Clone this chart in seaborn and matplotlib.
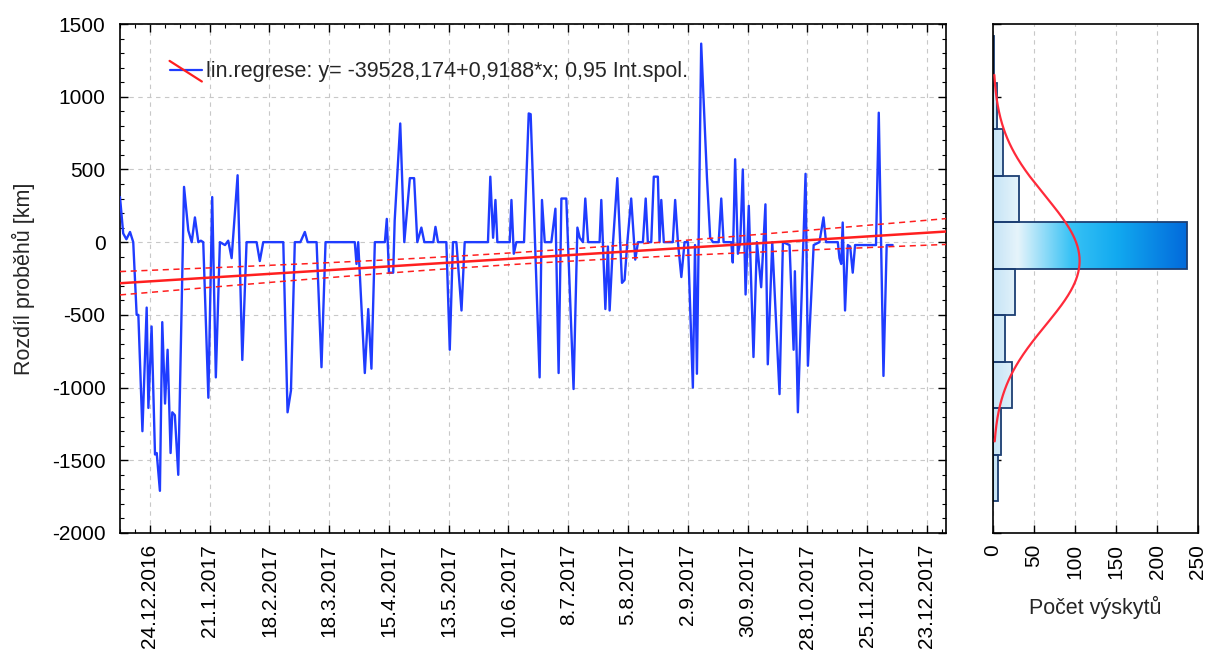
import numpy as np
import pandas as pd
import matplotlib
matplotlib.use("Agg")
import matplotlib.pyplot as plt
import matplotlib.dates as mdates
from matplotlib.colors import LinearSegmentedColormap
from matplotlib.legend_handler import HandlerBase
from matplotlib.lines import Line2D
from matplotlib.ticker import MultipleLocator
import seaborn as sns

sns.set_theme(style="ticks")
plt.rcParams["font.family"] = ["Liberation Sans", "DejaVu Sans"]
plt.rcParams["axes.unicode_minus"] = False

# --- data ---
start_date = "2016-12-10"
end_date = "2018-01-01"

# day offset from start_date, and difference in km at that day
day_offset = [
    0, 1.5, 3, 4.7, 6.2, 7.8, 8.6, 10.5, 12.5, 13.3,
    14.8, 16.4, 17.2, 18.7, 19.8, 21.1, 22.3, 23.7, 24.5, 25.7,
    27.3, 30.0, 32.0, 33.6, 35.1, 36.7, 37.9, 39.0, 41.4, 43.2,
    44.9, 46.8, 49.2, 50.7, 52.3, 55.1, 57.3, 59.3, 64.0, 65.5,
    67.1, 76.5, 78.5, 80.1, 81.9, 84.5, 86.6, 87.9, 92.1, 94.4,
    96.3, 110.0, 110.8, 111.6, 114.7, 116.3, 117.8, 119.4, 124.1, 125.0,
    126.0, 128.0, 128.7, 131.3, 133.2, 135.8, 137.8, 139.3, 141.2, 142.6,
    146.8, 147.8, 149.0, 152.9, 154.5, 156.0, 157.6, 160.0, 161.5, 172.4,
    173.5, 174.8, 175.9, 176.8, 182.6, 183.4, 184.5, 185.7, 189.3, 191.5,
    192.4, 196.6, 197.7, 199.0, 202.1, 204.0, 205.5, 206.8, 209.1, 212.5,
    214.3, 215.4, 216.9, 218.0, 219.3, 224.7, 225.5, 227.4, 228.6, 229.4,
    231.0, 233.0, 235.2, 236.4, 237.7, 239.5, 241.4, 242.7, 245.0, 246.3,
    247.3, 248.9, 250.1, 252.0, 252.8, 253.6, 254.8, 259.0, 260.1, 261.4,
    263.0, 264.5, 266.1, 268.4, 269.4, 270.3, 272.3, 275.0, 276.5, 277.8,
    280.5, 281.7, 282.8, 286.4, 287.1, 288.2, 289.5, 290.6, 291.8, 293.1,
    294.6, 296.8, 298.4, 300.4, 302.4, 303.5, 305.6, 309.0, 310.6, 313.7,
    315.6, 316.2, 317.6, 321.2, 322.3, 325.0, 327.7, 329.6, 330.8, 336.3,
    337.1, 337.9, 338.6, 339.7, 341.0, 342.1, 343.3, 344.4, 354.2, 355.5,
    357.7, 359.2, 362.0,
]
diff_km = [
    310, 60, 20, 70, 0, -500, -500, -1300, -450, -1140,
    -580, -1460, -1450, -1710, -550, -1110, -740, -1450, -1170, -1190,
    -1600, 380, 80, 0, 170, 0, 10, 0, -1070, 310,
    -930, 0, -20, 10, -110, 460, -810, 0, 0, -130,
    0, 0, -1170, -1020, 0, 0, 70, 0, 0, -860,
    0, 0, -150, 0, -900, -460, -870, 0, 0, 160,
    -210, -210, 150, 816, 0, 440, 440, 0, 100, 0,
    0, 105, 0, 0, -740, 0, 0, -470, 0, 0,
    450, 30, 290, 0, 0, 290, -80, 0, 0, 885,
    880, -930, 290, 0, 0, 230, -900, 300, 300, -1010,
    100, 30, 0, 300, 0, 0, 290, -460, -30, -470,
    0, 440, -280, -260, 0, 300, -120, 0, 0, 300,
    0, 0, 450, 450, 0, 290, 0, 0, 290, 0,
    -240, 0, 0, -1000, -20, -905, 1365, 445, 30, 0,
    0, 300, 0, 0, -140, 570, -80, 0, 500, -360,
    250, -790, 0, -310, 260, -840, 0, -1045, 0, -20,
    -740, -200, -1170, 470, -850, -20, 0, 170, 0, 0,
    -110, -150, 135, -470, -20, -30, -210, -20, -20, 890,
    -920, -20, -20,
]

tick_labels = ["24.12.2016", "21.1.2017", "18.2.2017", "18.3.2017", "15.4.2017",
               "13.5.2017", "10.6.2017", "8.7.2017", "5.8.2017", "2.9.2017",
               "30.9.2017", "28.10.2017", "25.11.2017", "23.12.2017"]

# regression from the legend (x = date serial number), 0.95 confidence band
reg_intercept = -39528.174
reg_slope = 0.9188
n_obs = 363
resid_sd = 390
t_crit = 1.967

# histogram of the differences (equal-width bins)
hist_low = -1783
hist_binwidth = 320
hist_counts = [6, 10, 23, 15, 27, 236, 32, 12, 5, 1]
curve_span = [-1370, 1150]

BLUE = "#1f3cff"
RED = "#ff1f1f"

df = pd.DataFrame({
    "datum": pd.Timestamp(start_date) + pd.to_timedelta(day_offset, unit="D"),
    "rozdil": diff_km,
})

fig = plt.figure(figsize=(12.07, 6.6), dpi=100)
W, H = 1207, 660
ax = fig.add_axes([120 / W, 1 - 533 / H, 826 / W, 509 / H])
axh = fig.add_axes([993 / W, 1 - 533 / H, 205 / W, 509 / H])

# --- time series ---
sns.lineplot(data=df, x="datum", y="rozdil", ax=ax, color=BLUE, lw=1.7, zorder=3)

# regression line + confidence band
xn = np.linspace(mdates.date2num(pd.Timestamp(start_date)), mdates.date2num(pd.Timestamp(end_date)), 300)
serial = xn + 25569
y_fit = reg_intercept + reg_slope * serial
obs = serial[0] + np.arange(n_obs)
xbar = obs.mean()
sxx = ((obs - xbar) ** 2).sum()
hw = t_crit * resid_sd * np.sqrt(1 / n_obs + (serial - xbar) ** 2 / sxx)
ax.plot(xn, y_fit, color=RED, lw=1.8, zorder=4)
ax.plot(xn, y_fit + hw, color=RED, lw=1.1, ls=(0, (4, 3)), zorder=4)
ax.plot(xn, y_fit - hw, color=RED, lw=1.1, ls=(0, (4, 3)), zorder=4)


class RegHandler(HandlerBase):
    def create_artists(self, legend, orig_handle, xdescent, ydescent, width, height, fontsize, trans):
        x0, x1 = -xdescent, -xdescent + width
        blue = Line2D([x0, x1], [height / 2 - ydescent] * 2, color=BLUE, lw=1.6, transform=trans)
        red = Line2D([x0, x1], [height - ydescent + 1, -ydescent - 3], color=RED, lw=1.6, transform=trans)
        return [blue, red]


def cz(v, nd):
    return f"{v:.{nd}f}".replace(".", ",")


handle = Line2D([], [], color=RED)
label = f"lin.regrese: y= {cz(reg_intercept, 3)}+{cz(reg_slope, 4)}*x; 0,95 Int.spol."
ax.legend([handle], [label], handler_map={handle: RegHandler()}, loc="center left",
          bbox_to_anchor=(0.06, 0.906), frameon=False, fontsize=15.5,
          handlelength=1.5, handletextpad=0.2, borderaxespad=0, borderpad=0)

ax.set_xlim(pd.Timestamp(start_date), pd.Timestamp(end_date))
ax.set_ylim(-2000, 1500)
tick_dates = pd.to_datetime(tick_labels, format="%d.%m.%Y")
ax.set_xticks(tick_dates, labels=tick_labels, rotation=90)
ax.xaxis.set_minor_locator(MultipleLocator(7, offset=mdates.date2num(tick_dates[0]) % 7))
ax.yaxis.set_major_locator(MultipleLocator(500))
ax.yaxis.set_minor_locator(MultipleLocator(100))
ax.tick_params(which="both", direction="in", top=True, right=True, colors="black", labelsize=15)
ax.tick_params(which="major", length=6, width=1)
ax.tick_params(which="minor", length=3, width=0.8)
ax.tick_params(axis="x", pad=8)
ax.tick_params(axis="y", pad=10.5)
ax.grid(True, which="major", color="#c8c8c8", ls=(0, (4, 4)), lw=0.8)
ax.set_xlabel("")
ax.set_ylabel("Rozdíl proběhů [km]", fontsize=15.5, labelpad=12)
for s in ax.spines.values():
    s.set_linewidth(1.2)
    s.set_color("black")

# --- histogram ---
n_bins = len(hist_counts)
hist_high = hist_low + n_bins * hist_binwidth
centers = hist_low + hist_binwidth * (np.arange(n_bins) + 0.5)
hdf = pd.DataFrame({"stred": centers, "pocet": np.array(hist_counts, dtype=float)})
sns.histplot(data=hdf, y="stred", weights="pocet", binwidth=hist_binwidth,
             binrange=(hist_low, hist_high), ax=axh, stat="count",
             color="#a9dcf5", edgecolor="#1d3f73", linewidth=1.3, alpha=1)

cmap = LinearSegmentedColormap.from_list(
    "bar", [(0, "#c6e4f6"), (0.12, "#e6f4fb"), (0.38, "#38c2f5"), (0.6, "#12aaf0"), (1, "#0060d8")])
grad = np.linspace(0, 1, 256).reshape(1, -1)
for p in list(axh.patches):
    y0, h = p.get_y(), p.get_height()
    im = axh.imshow(grad, cmap=cmap, extent=[0, 250, y0, y0 + h], aspect="auto",
                    interpolation="bicubic", zorder=p.get_zorder() - 0.1)
    im.set_clip_path(p)
    p.set_facecolor("none")
    p.set_zorder(p.get_zorder() + 0.2)

counts = hdf["pocet"].to_numpy()
mean = np.average(centers, weights=counts)
sd = np.sqrt(np.average((centers - mean) ** 2, weights=counts))
yy = np.linspace(curve_span[0], curve_span[1], 300)
xx = counts.sum() * hist_binwidth * np.exp(-0.5 * ((yy - mean) / sd) ** 2) / (sd * np.sqrt(2 * np.pi))
axh.plot(xx, yy, color="#ff2a3a", lw=1.6, zorder=6)

axh.set_xlim(0, 250)
axh.set_ylim(-2000, 1500)
axh.set_xticks(range(0, 251, 50))
axh.tick_params(axis="x", labelrotation=90, pad=8)
axh.yaxis.set_major_locator(MultipleLocator(500))
axh.tick_params(which="both", direction="in", labelleft=False, length=6, width=1,
                colors="black", labelsize=15)
axh.xaxis.grid(True, color="#c8c8c8", ls=(0, (4, 4)), lw=0.8)
axh.yaxis.grid(False)
axh.set_ylabel("")
axh.set_xlabel("Počet výskytů", fontsize=15.5, labelpad=12)
for s in axh.spines.values():
    s.set_linewidth(1.2)
    s.set_color("black")

fig.savefig("out.png", dpi=100)
